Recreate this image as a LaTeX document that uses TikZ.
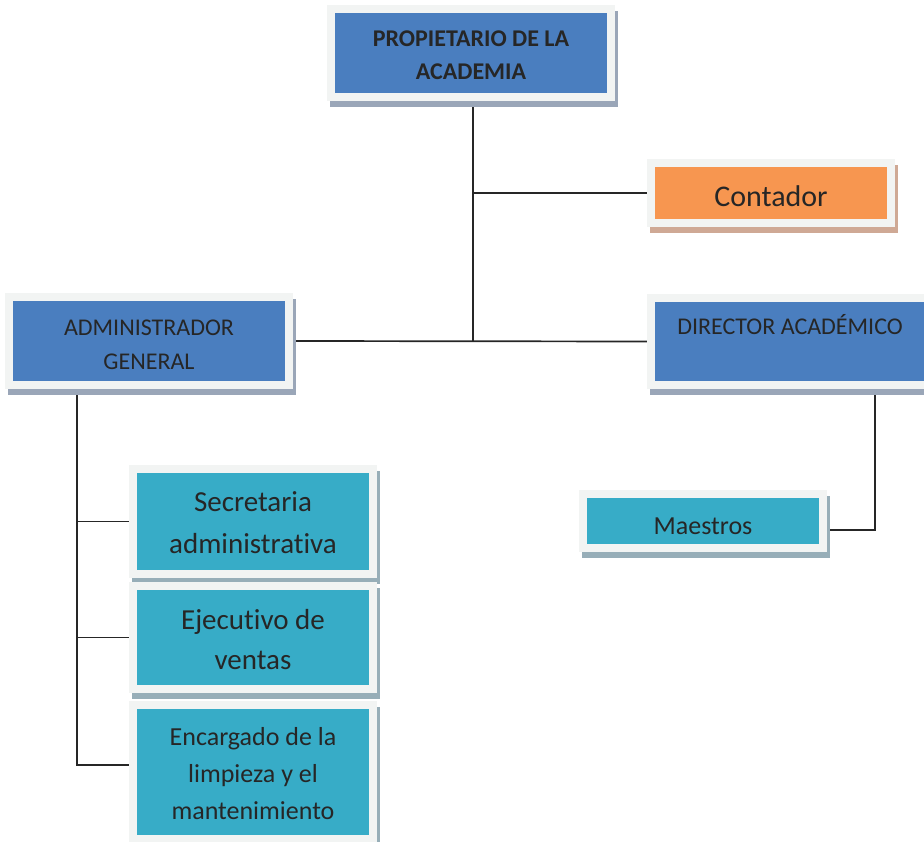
\documentclass[tikz,border=0pt]{standalone}
\usepackage{fontspec}
\setmainfont{Carlito}[Ligatures=NoCommon]
\usepackage{xcolor}
\usetikzlibrary{backgrounds}

\definecolor{boxblue}{HTML}{4A7EBF}
\definecolor{boxteal}{HTML}{37ACC7}
\definecolor{boxorange}{HTML}{F79650}
\definecolor{framegray}{HTML}{F2F4F3}
\definecolor{shadeblue}{HTML}{9AA6B8}
\definecolor{shadeteal}{HTML}{97AEB8}
\definecolor{shadeorange}{HTML}{CFA995}
\definecolor{textdark}{HTML}{262626}

% extra room above the first text line
\newcommand\topgap[1]{\rule{0pt}{#1}}

\tikzset{
  orgbox/.style 2 args={rectangle, inner sep=0pt, outer sep=8pt, align=center, text=textdark, fill=#1,
    preaction={draw=#2, fill=#2, line width=16pt, transform canvas={shift={(3pt,-6pt)}}},
    preaction={draw=framegray, line width=16pt}},
  bluebox/.style={orgbox={boxblue}{shadeblue}, minimum width=272pt, minimum height=80pt,
    font=\fontsize{24}{34}\selectfont},
  tealbox/.style={orgbox={boxteal}{shadeteal}, minimum width=232pt},
  orangebox/.style={orgbox={boxorange}{shadeorange}, minimum width=232pt},
  link/.style={line width=1.7pt, draw=textdark}
}

\begin{document}
\begin{tikzpicture}[x=1pt, y=-1pt]
  \useasboundingbox (0,0) rectangle (924,842);

  \node[bluebox, font=\bfseries\fontsize{24}{33}\selectfont] (prop) at (471,53) {\topgap{19.5pt}PROPIETARIO DE LA\\ACADEMIA};
  \node[orangebox, minimum height=52pt, font=\fontsize{30}{36}\selectfont] (cont) at (771,193) {\topgap{28pt}Contador};
  \node[bluebox] (admin) at (149,341) {\topgap{22.5pt}ADMINISTRADOR\\GENERAL};
  \node[bluebox, minimum width=270pt, minimum height=79pt] (dir) at (790,341.5) {DIRECTOR ACADÉMICO\\\mbox{}};
  \node[tealbox, minimum height=46pt, font=\fontsize{26}{32}\selectfont] (maes) at (703,521) {\topgap{28pt}Maestros};
  \node[tealbox, minimum height=97pt, font=\fontsize{29}{42}\selectfont] (sec) at (253,521.5) {\topgap{21.7pt}Secretaria\\administrativa};
  \node[tealbox, minimum height=95pt, font=\fontsize{29}{40}\selectfont] (eje) at (253,637.5) {\topgap{25pt}Ejecutivo de\\ventas};
  \node[tealbox, minimum height=126pt, font=\fontsize{26}{37}\selectfont] (enc) at (253,772) {\topgap{21.7pt}Encargado de la\\limpieza y el\\mantenimiento};

  % connectors behind the boxes
  \begin{pgfonlayer}{background}
    \coordinate (mid) at ([xshift=2pt]prop.south |- admin.east);
    \coordinate (agtop) at ([xshift=72pt]admin.south west);
    \coordinate (dgtop) at ([xshift=-58pt]dir.south east);
    \coordinate (maesin) at ([yshift=-9pt]maes.east);
    \coordinate (encin) at ([yshift=7pt]enc.west);
    \draw[link] ([xshift=2pt]prop.south) -- (mid);
    \draw[link] ([xshift=2pt]prop.south |- cont.west) -- (cont.west);
    \draw[link] (admin.east) -- (dir.west);
    \draw[link] (agtop) -- (agtop |- encin) -- (encin);
    \draw[link] (agtop |- sec.west) -- (sec.west);
    \draw[link] (agtop |- eje.west) -- (eje.west);
    \draw[link] (dgtop) -- (dgtop |- maesin) -- (maesin);
  \end{pgfonlayer}
\end{tikzpicture}
\end{document}
